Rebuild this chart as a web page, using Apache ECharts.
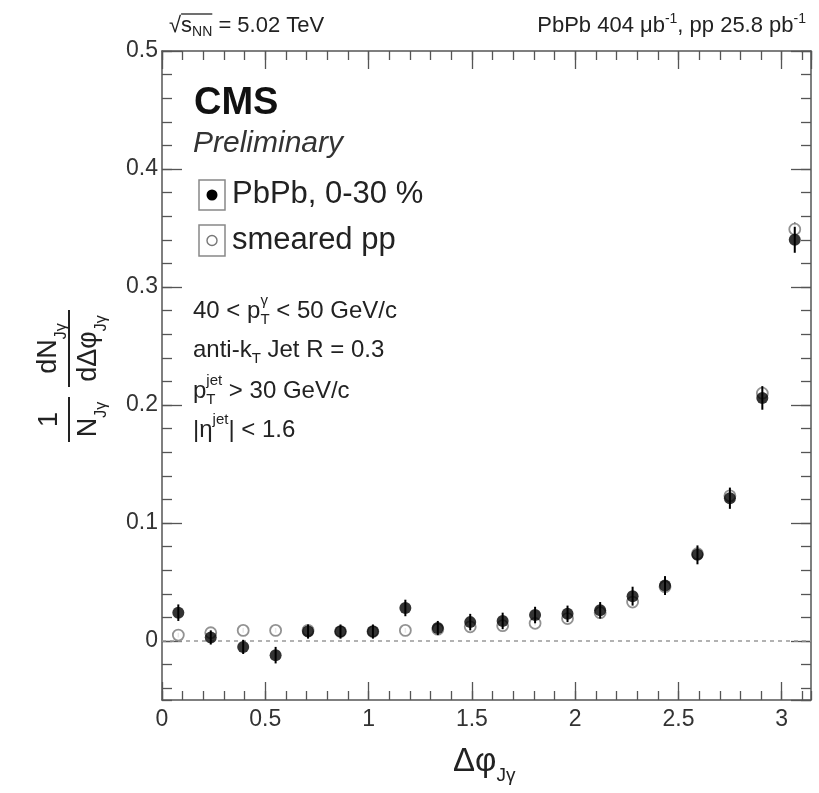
<!DOCTYPE html>
<html>
<head>
<meta charset="utf-8">
<script src="https://cdn.jsdelivr.net/npm/echarts@6/dist/echarts.min.js"></script>
<style>html,body{margin:0;padding:0;background:#fff}#chart{width:819px;height:793px}</style>
</head>
<body>
<div id="chart"></div>
<script>
// bin centres in delta-phi (20 bins over 0..pi)
var dphiBins = [0.079, 0.236, 0.393, 0.550, 0.707, 0.864, 1.021, 1.178, 1.335, 1.492,
                1.649, 1.806, 1.963, 2.121, 2.278, 2.435, 2.592, 2.749, 2.906, 3.063];
// PbPb 0-30 %
var pbpbVals = [0.024, 0.003, -0.005, -0.012, 0.008, 0.008, 0.008, 0.028, 0.011, 0.016,
                0.017, 0.022, 0.023, 0.026, 0.038, 0.047, 0.073, 0.121, 0.206, 0.340];
var pbpbErr  = [0.007, 0.006, 0.006, 0.007, 0.006, 0.006, 0.006, 0.007, 0.006, 0.007,
                0.007, 0.007, 0.007, 0.007, 0.008, 0.008, 0.008, 0.009, 0.010, 0.011];
// smeared pp
var ppVals = [0.005, 0.007, 0.009, 0.009, 0.009, 0.008, 0.008, 0.009, 0.010, 0.012,
              0.013, 0.015, 0.019, 0.024, 0.033, 0.046, 0.074, 0.123, 0.210, 0.349];
var ppErr  = [0.002, 0.002, 0.002, 0.002, 0.002, 0.002, 0.002, 0.002, 0.002, 0.002,
              0.002, 0.002, 0.002, 0.002, 0.002, 0.003, 0.003, 0.004, 0.005, 0.006];

var FONT = '"Liberation Sans", Arial, sans-serif';
var ink = '#222';
var axisInk = '#555';

var ctx = document.createElement('canvas').getContext('2d');
function textWidth(s, size, o) {
    o = o || {};
    ctx.font = (o.italic ? 'italic ' : '') + (o.bold ? 'bold ' : '') + size + 'px ' + FONT;
    return ctx.measureText(s).width;
}
function txt(x, y, s, size, o) {
    o = o || {};
    return {
        type: 'text', x: x, y: y, silent: true,
        style: {
            text: s,
            font: (o.italic ? 'italic ' : '') + (o.bold ? 'bold ' : '') + size + 'px ' + FONT,
            fill: o.color || ink,
            align: o.align || 'left', textAlign: o.align || 'left',
            verticalAlign: 'middle', textVerticalAlign: 'middle'
        }
    };
}
// a run of text pieces: [text, size, dy, {stack, bold, italic}]
function row(x, y, parts) {
    var els = [], cx = x, held = 0;
    parts.forEach(function (p) {
        var o = p[3] || {};
        els.push(txt(cx, y + (p[2] || 0), p[0], p[1], o));
        var w = textWidth(p[0], p[1], o);
        if (o.stack) { held = Math.max(held, w); } else { cx += Math.max(w, held); held = 0; }
    });
    els.width = cx - x;
    return els;
}
function rowWidth(parts) { return row(0, 0, parts).width; }

var g = [];
// header left: sqrt(s_NN) = 5.02 TeV
var hx = 169, hy = 26, hs = 22, hss = 14;
g = g.concat(row(hx, hy, [['\u221A', hs], ['s', hs], ['NN', hss, 6], [' = 5.02 TeV', hs]]));
var ox0 = hx + textWidth('\u221A', hs);
var ox1 = ox0 + textWidth('s', hs) + textWidth('NN', hss);
g.push({ type: 'line', silent: true, shape: { x1: ox0, y1: 14, x2: ox1, y2: 14 }, style: { stroke: ink, lineWidth: 1.3 } });
// header right
var lumiParts = [['PbPb 404 \u03BCb', hs], ['-1', hss, -7], [', pp 25.8 pb', hs], ['-1', hss, -7]];
g = g.concat(row(806 - rowWidth(lumiParts), hy, lumiParts));

// CMS label
g.push(txt(194, 104, 'CMS', 38, { bold: true, color: '#111' }));
g.push(txt(193, 144, 'Preliminary', 30, { italic: true, color: '#333' }));

// legend
g.push({ type: 'rect', silent: true, shape: { x: 199, y: 180, width: 26, height: 30 }, style: { fill: 'none', stroke: '#888', lineWidth: 1.5 } });
g.push({ type: 'circle', silent: true, shape: { cx: 212, cy: 195, r: 5.5 }, style: { fill: '#000' } });
g.push(txt(232, 194, 'PbPb, 0-30 %', 31));
g.push({ type: 'rect', silent: true, shape: { x: 199, y: 225, width: 26, height: 31 }, style: { fill: 'none', stroke: '#888', lineWidth: 1.5 } });
g.push({ type: 'circle', silent: true, shape: { cx: 212, cy: 240.5, r: 5 }, style: { fill: '#fff', stroke: '#777', lineWidth: 1.4 } });
g.push(txt(232, 240, 'smeared pp', 31));

// selection text
var ts = 24, tss = 15;
g = g.concat(row(193, 311, [['40 < p', ts], ['\u03B3', tss, -10, { stack: true }], ['T', tss, 9], [' < 50 GeV/c', ts]]));
g = g.concat(row(193, 350, [['anti-k', ts], ['T', tss, 9], [' Jet R = 0.3', ts]]));
g = g.concat(row(193, 391, [['p', ts], ['jet', tss, -10, { stack: true }], ['T', tss, 9], [' > 30 GeV/c', ts]]));
g = g.concat(row(193, 430, [['|\u03B7', ts], ['jet', tss, -10], ['| < 1.6', ts]]));

// x axis title
g = g.concat(row(453, 762, [['\u0394\u03C6', 33], ['J\u03B3', 19, 14]]));

// y axis title, rotated: 1/N_Jg dN_Jg/dDphi_Jg
var ys = 27, yss = 16;
var yKids = [];
yKids.push({ type: 'line', shape: { x1: 0, y1: 0, x2: 45, y2: 0 }, style: { stroke: ink, lineWidth: 2 } });
yKids.push(txt(22.5, -19, '1', ys, { align: 'center' }));
var nW = textWidth('N', ys) + textWidth('J\u03B3', yss);
yKids = yKids.concat(row(22.5 - nW / 2, 20, [['N', ys], ['J\u03B3', yss, 13]]));
yKids.push({ type: 'line', shape: { x1: 55, y1: 0, x2: 132, y2: 0 }, style: { stroke: ink, lineWidth: 2 } });
var numW = textWidth('dN', ys) + textWidth('J\u03B3', yss);
yKids = yKids.concat(row(93.5 - numW / 2, -20, [['dN', ys], ['J\u03B3', yss, 13]]));
var denW = textWidth('d\u0394\u03C6', ys) + textWidth('J\u03B3', yss);
yKids = yKids.concat(row(93.5 - denW / 2, 20, [['d\u0394\u03C6', ys], ['J\u03B3', yss, 13]]));
g.push({ type: 'group', x: 69, y: 442, rotation: Math.PI / 2, silent: true, children: yKids });

var XMAX = Math.PI;
function xAx(pos, interval, len, main) {
    return {
        type: 'value', position: pos, min: 0, max: XMAX, interval: interval,
        axisLine: { show: main, onZero: false, lineStyle: { color: axisInk, width: 1.5 } },
        axisTick: { show: true, inside: true, length: len, lineStyle: { color: axisInk, width: 1.3 } },
        axisLabel: { show: main && pos === 'bottom', showMaxLabel: false, margin: 8, color: '#333', fontSize: 23, fontFamily: FONT },
        splitLine: { show: false }
    };
}
function yAx(pos, split, len, main) {
    return {
        type: 'value', position: pos, min: -0.05, max: 0.5, splitNumber: split,
        axisLine: { show: main, onZero: false, lineStyle: { color: axisInk, width: 1.5 } },
        axisTick: { show: true, inside: true, length: len, lineStyle: { color: axisInk, width: 1.3 } },
        axisLabel: { show: main && pos === 'left', showMinLabel: false, margin: 4, color: '#333', fontSize: 23, fontFamily: FONT },
        splitLine: { show: false }
    };
}

var chart = echarts.init(document.getElementById('chart'));
chart.setOption({
    animation: false,
    backgroundColor: '#fff',
    grid: { left: 162, right: 8, top: 51, bottom: 93 },
    xAxis: [xAx('bottom', 0.5, 18, true), xAx('bottom', 0.1, 9, false), xAx('top', 0.5, 18, true), xAx('top', 0.1, 9, false)],
    yAxis: [yAx('left', 5, 20, true), yAx('left', 27, 10, false), yAx('right', 5, 20, true), yAx('right', 27, 10, false)],
    graphic: g,
    series: [
        {
            type: 'line', data: [], silent: true,
            markLine: {
                silent: true, symbol: 'none', label: { show: false },
                lineStyle: { color: '#999', type: [4, 4], width: 1.5 },
                data: [{ yAxis: 0 }]
            }
        },
        {
            type: 'custom', silent: true, z: 3,
            data: dphiBins.map(function (x, i) { return [x, ppVals[i], ppErr[i]]; }),
            renderItem: function (params, api) {
                var x = api.value(0), y = api.value(1), e = api.value(2);
                var a = api.coord([x, y - e]), b = api.coord([x, y + e]);
                return { type: 'line', shape: { x1: a[0], y1: a[1], x2: b[0], y2: b[1] }, style: { stroke: '#888', lineWidth: 1.5 } };
            }
        },
        {
            type: 'scatter', silent: true, z: 4, symbol: 'circle', symbolSize: 11,
            itemStyle: { color: '#fff', borderColor: '#777', borderWidth: 1.8 },
            data: dphiBins.map(function (x, i) { return [x, ppVals[i]]; })
        },
        {
            type: 'custom', silent: true, z: 5,
            data: dphiBins.map(function (x, i) { return [x, pbpbVals[i], pbpbErr[i]]; }),
            renderItem: function (params, api) {
                var x = api.value(0), y = api.value(1), e = api.value(2);
                var a = api.coord([x, y - e]), b = api.coord([x, y + e]);
                return { type: 'line', shape: { x1: a[0], y1: a[1], x2: b[0], y2: b[1] }, style: { stroke: '#000', lineWidth: 2 } };
            }
        },
        {
            type: 'scatter', silent: true, z: 6, symbol: 'circle', symbolSize: 12,
            itemStyle: { color: '#000' },
            data: dphiBins.map(function (x, i) { return [x, pbpbVals[i]]; })
        }
    ]
});
</script>
</body>
</html>
